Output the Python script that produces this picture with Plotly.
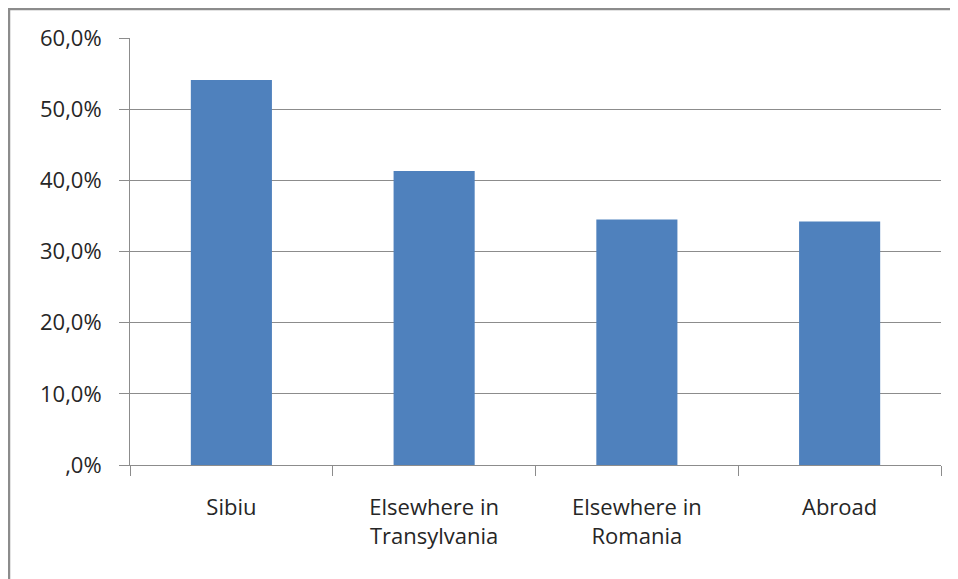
import plotly.graph_objects as go

categories = ["Sibiu", "Elsewhere in<br>Transylvania", "Elsewhere in<br>Romania", "Abroad"]
values = [54.1, 41.3, 34.5, 34.2]
y_tickvals = [0, 10, 20, 30, 40, 50, 60]
y_ticktext = [",0%", "10,0%", "20,0%", "30,0%", "40,0%", "50,0%", "60,0%"]

grey = "#8c8c8c"
font = dict(family="Open Sans", size=22, color="#262626")

fig = go.Figure(go.Bar(x=categories, y=values, marker=dict(color="#4F81BD", line=dict(width=0)), width=0.4))

fig.update_layout(
    width=950, height=571,
    margin=dict(l=122, r=17, t=30, b=114),
    paper_bgcolor="white", plot_bgcolor="white",
    showlegend=False,
    font=font,
    shapes=[dict(type="rect", xref="paper", yref="paper",
                 x0=-0.1492, x1=1.2, y0=-0.4, y1=1.0679,
                 line=dict(color=grey, width=2.5), fillcolor="rgba(0,0,0,0)", layer="below")],
)
fig.update_xaxes(
    showline=True, linecolor=grey, linewidth=1,
    ticks="outside", tickson="boundaries", ticklen=10, tickcolor=grey,
    showgrid=False, tickfont=font, ticklabelstandoff=23,
)
fig.update_yaxes(
    range=[0, 60], tickvals=y_tickvals, ticktext=y_ticktext,
    showline=True, linecolor=grey, linewidth=1,
    ticks="outside", ticklen=10, tickcolor=grey,
    showgrid=True, gridcolor=grey, gridwidth=1,
    zeroline=False, tickfont=font, ticklabelstandoff=13,
)

fig.write_html("out.html")
